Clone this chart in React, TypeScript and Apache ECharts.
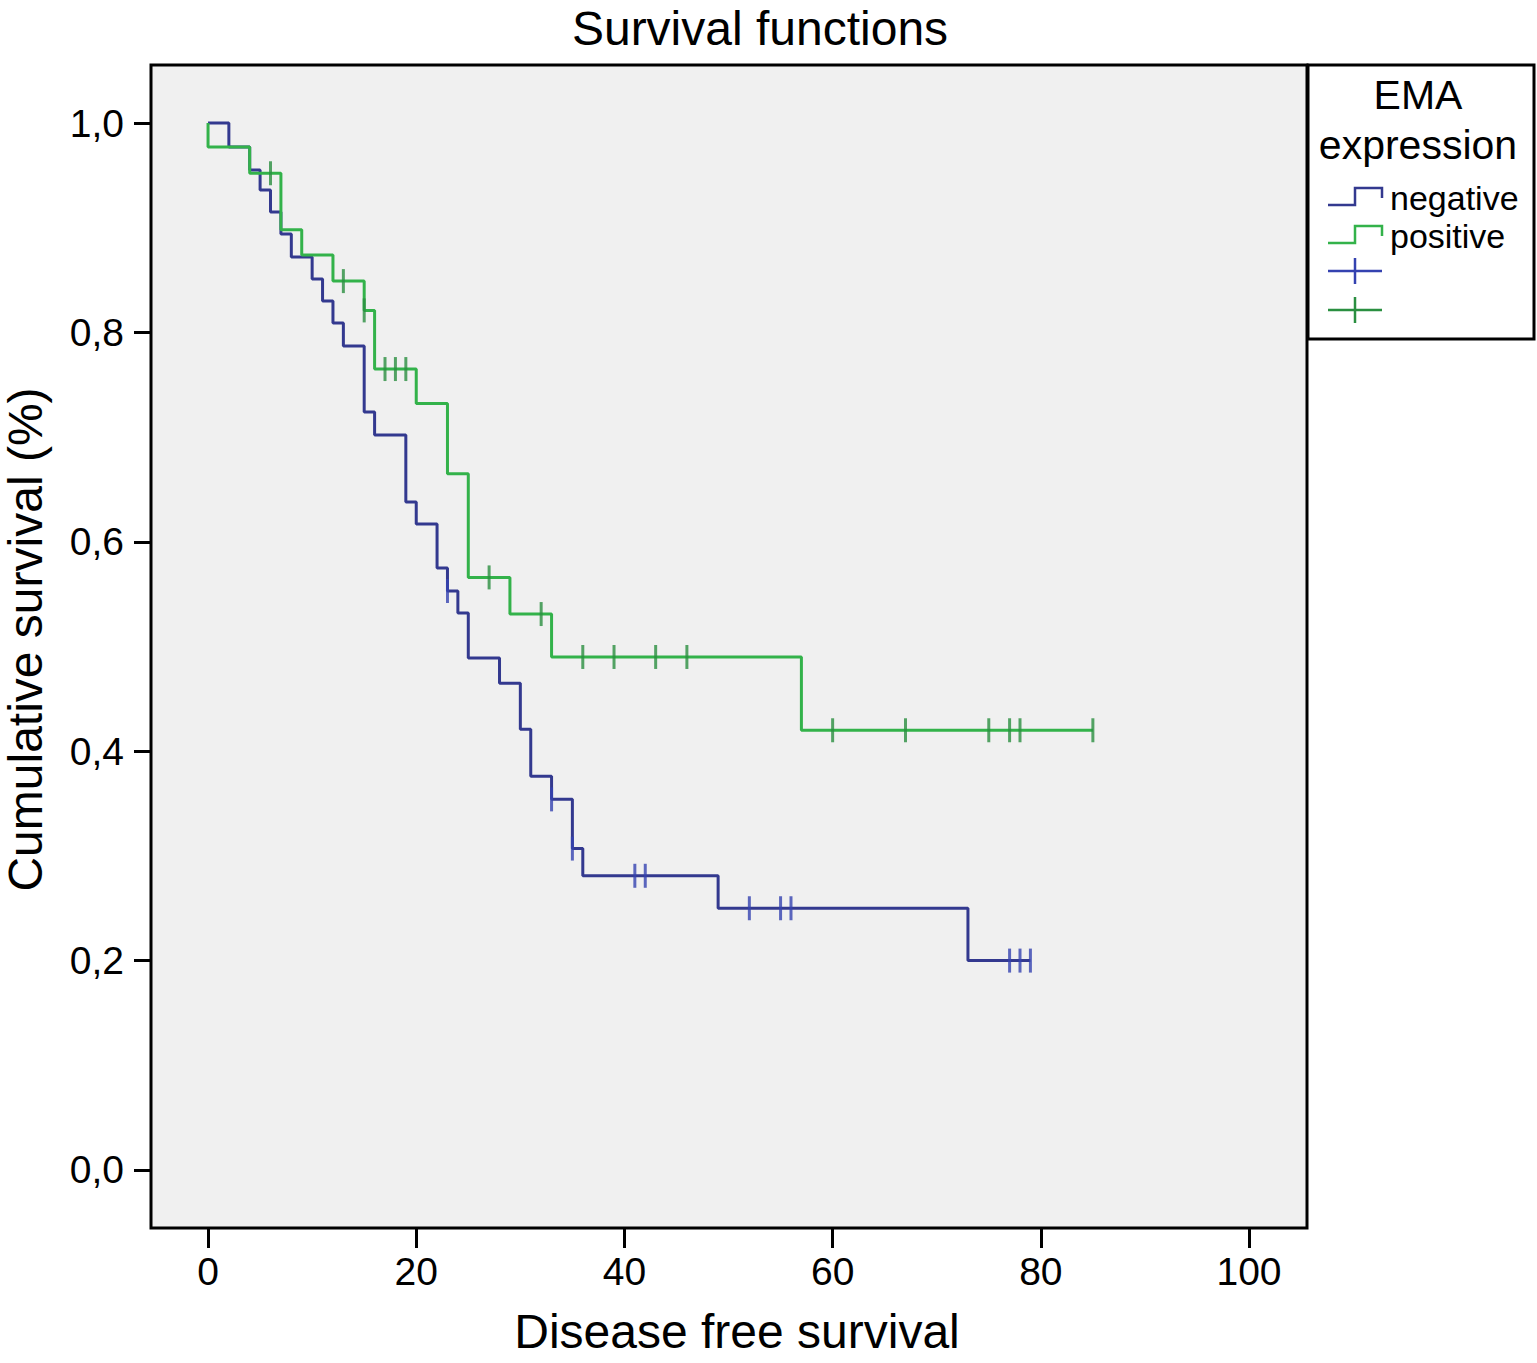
import React, { useEffect, useRef } from "react";
import * as echarts from "echarts";

// Kaplan-Meier steps: time of event, survival after the event
const negTimes = [0, 2, 4, 5, 6, 7, 8, 10, 11, 12, 13, 15, 16, 19, 20, 22, 23, 24, 25, 28, 30, 31, 33, 35, 36, 49, 73];
const negSurv = [1.0, 0.977, 0.955, 0.936, 0.915, 0.894, 0.872, 0.851, 0.83, 0.809, 0.787, 0.724, 0.702, 0.638, 0.617, 0.575, 0.553, 0.532, 0.489, 0.465, 0.421, 0.376, 0.354, 0.307, 0.281, 0.25, 0.2];
const negEnd = 79;
const negCensor = [23, 33, 35, 41, 42, 52, 55, 56, 77, 78, 79];

const posTimes = [0, 0, 4, 7, 9, 12, 15, 16, 20, 23, 25, 29, 33, 57];
const posSurv = [1.0, 0.977, 0.952, 0.898, 0.874, 0.849, 0.821, 0.765, 0.732, 0.665, 0.566, 0.531, 0.49, 0.42];
const posEnd = 85;
const posCensor = [6, 13, 15, 17, 18, 19, 27, 32, 36, 39, 43, 46, 60, 67, 75, 77, 78, 85];

const xTicks = [0, 20, 40, 60, 80, 100];
const yTicks = [0, 0.2, 0.4, 0.6, 0.8, 1.0];

const NEG_COLOR = "#33398f";
const POS_COLOR = "#33b24a";
const NEG_CENSOR = "#3442b0";
const POS_CENSOR = "#2a8f40";
const FONT = "Liberation Sans";

const stepLine = (times: number[], surv: number[], end: number) => {
  const pts = times.map((t, i) => [t, surv[i]]);
  pts.push([end, surv[surv.length - 1]]);
  return pts;
};

const survAt = (times: number[], surv: number[], t: number) => {
  let s = surv[0];
  times.forEach((tt, i) => {
    if (tt <= t) s = surv[i];
  });
  return s;
};

const App: React.FC = () => {
  const chartRef = useRef<HTMLDivElement>(null);

  useEffect(() => {
    document.body.style.margin = "0";
    if (!chartRef.current) return;
    const chart = echarts.init(chartRef.current, undefined, { renderer: "svg" });

    const legendX = 1308;
    const stepIcon = (y: number, color: string) => ({
      type: "polyline",
      shape: {
        points: [
          [legendX + 20, y + 8],
          [legendX + 47, y + 8],
          [legendX + 47, y - 9],
          [legendX + 74, y - 9],
          [legendX + 74, y + 1],
        ],
      },
      style: { stroke: color, lineWidth: 2.5, fill: "none" },
    });
    const plusIcon = (y: number, color: string) => ({
      type: "group",
      children: [
        { type: "line", shape: { x1: legendX + 20, y1: y, x2: legendX + 74, y2: y }, style: { stroke: color, lineWidth: 2.5 } },
        { type: "line", shape: { x1: legendX + 47, y1: y - 13, x2: legendX + 47, y2: y + 13 }, style: { stroke: color, lineWidth: 2.5 } },
      ],
    });

    const option: any = {
      animation: false,
      backgroundColor: "#fff",
      textStyle: { fontFamily: FONT },
      title: {
        text: "Survival functions",
        left: 760,
        textAlign: "center",
        top: 4,
        padding: 0,
        textStyle: { fontSize: 48, fontWeight: "normal", color: "#000", fontFamily: FONT },
      },
      grid: {
        left: 151,
        right: 230,
        top: 65,
        bottom: 135,
        containLabel: false,
        outerBoundsMode: "none",
        show: true,
        backgroundColor: "#f0f0f0",
        borderColor: "#000",
        borderWidth: 3,
      },
      xAxis: {
        type: "value",
        min: -5.48,
        max: 105.57,
        name: "Disease free survival",
        nameLocation: "middle",
        nameGap: 79,
        nameTextStyle: { fontSize: 48, color: "#000", fontFamily: FONT, padding: [0, 0, 0, 16] },
        axisLine: { show: false, onZero: false },
        splitLine: { show: false },
        axisTick: {
          show: true,
          customValues: xTicks,
          length: 20,
          lineStyle: { color: "#000", width: 3 },
        },
        axisLabel: {
          customValues: xTicks,
          fontSize: 39,
          color: "#000",
          margin: 24,
          fontFamily: FONT,
        },
      },
      yAxis: {
        type: "value",
        min: -0.0554,
        max: 1.0554,
        name: "Cumulative survival (%)",
        nameLocation: "middle",
        nameGap: 102,
        nameTextStyle: { fontSize: 48, color: "#000", fontFamily: FONT, padding: [0, 0, 0, 14] },
        axisLine: { show: false, onZero: false },
        splitLine: { show: false },
        axisTick: {
          show: true,
          customValues: yTicks,
          length: 17,
          lineStyle: { color: "#000", width: 3 },
        },
        axisLabel: {
          customValues: yTicks,
          fontSize: 39,
          color: "#000",
          margin: 27,
          fontFamily: FONT,
          formatter: (v: number) => v.toFixed(1).replace(".", ","),
        },
      },
      series: [
        {
          name: "negative",
          type: "line",
          step: "end",
          showSymbol: false,
          data: stepLine(negTimes, negSurv, negEnd),
          lineStyle: { color: NEG_COLOR, width: 3 },
          z: 3,
        },
        {
          name: "positive",
          type: "line",
          step: "end",
          showSymbol: false,
          data: stepLine(posTimes, posSurv, posEnd),
          lineStyle: { color: POS_COLOR, width: 3 },
          z: 4,
        },
        {
          name: "negative censored",
          type: "scatter",
          symbol: "rect",
          symbolSize: [3, 24],
          data: negCensor.map((t) => [t, survAt(negTimes, negSurv, t)]),
          itemStyle: { color: NEG_CENSOR },
          z: 5,
        },
        {
          name: "positive censored",
          type: "scatter",
          symbol: "rect",
          symbolSize: [3, 24],
          data: posCensor.map((t) => [t, survAt(posTimes, posSurv, t)]),
          itemStyle: { color: POS_CENSOR },
          z: 6,
        },
      ],
      graphic: [
        {
          type: "rect",
          shape: { x: legendX, y: 65, width: 226, height: 274 },
          style: { fill: "#fff", stroke: "#000", lineWidth: 3 },
        },
        {
          type: "text",
          x: 1418,
          y: 95,
          style: { text: "EMA", font: `41px "${FONT}"`, fill: "#000", align: "center", verticalAlign: "middle" },
        },
        {
          type: "text",
          x: 1418,
          y: 145,
          style: { text: "expression", font: `41px "${FONT}"`, fill: "#000", align: "center", verticalAlign: "middle" },
        },
        stepIcon(197, NEG_COLOR),
        {
          type: "text",
          x: 1390,
          y: 198,
          style: { text: "negative", font: `34px "${FONT}"`, fill: "#000", align: "left", verticalAlign: "middle" },
        },
        stepIcon(235, POS_COLOR),
        {
          type: "text",
          x: 1390,
          y: 236,
          style: { text: "positive", font: `34px "${FONT}"`, fill: "#000", align: "left", verticalAlign: "middle" },
        },
        plusIcon(271, NEG_CENSOR),
        plusIcon(310, POS_CENSOR),
      ],
    };

    chart.setOption(option);

    return () => {
      chart.dispose();
    };
  }, []);

  return <div ref={chartRef} style={{ width: "1537px", height: "1363px" }} />;
};

export default App;
